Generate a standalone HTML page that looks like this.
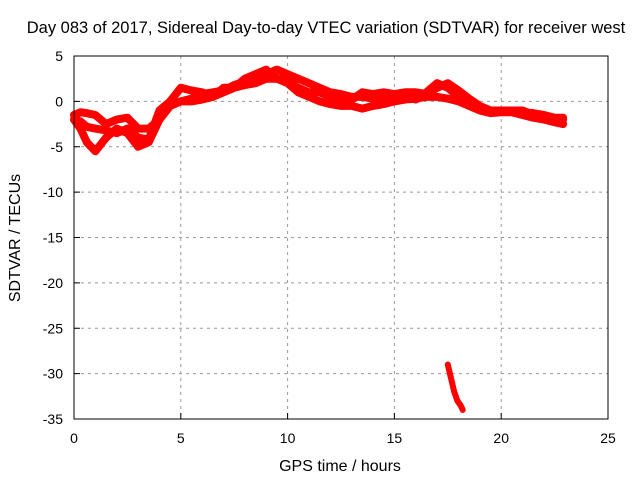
<!DOCTYPE html>
<html><head><meta charset="utf-8"><style>
body{margin:0;background:#fff}
svg{display:block;font-family:"Liberation Sans",sans-serif}
</style></head><body>
<svg id="c" width="640" height="480">
<text x="326" y="33" text-anchor="middle" font-size="16.5">Day 083 of 2017, Sidereal Day-to-day VTEC variation (SDTVAR) for receiver west</text>
<text x="340" y="471" text-anchor="middle" font-size="16">GPS time / hours</text>
<text transform="translate(20,238) rotate(-90)" text-anchor="middle" font-size="16">SDTVAR / TECUs</text>
<g id="grid"></g><g id="ticks"></g><g id="marks"></g>
<rect x="74" y="56" width="534" height="363" fill="none" stroke="#000" stroke-width="1"/>
</svg>
<script>
const xTicks=[0,5,10,15,20,25];
const yTicks=[5,0,-5,-10,-15,-20,-25,-30,-35];
const hours=[0,0.3,0.6,1,1.5,2,2.5,3,3.5,4,4.5,5,5.5,6,6.5,7,7.5,8,8.5,9,9.5,10,10.5,11,11.5,12,12.5,13,13.5,14,14.5,15,15.5,16,16.5,17,17.5,18,18.5,19,19.5,20,20.5,21,21.5,22,22.5,22.9];
const upperBand=[-1.5,-1.2,-1.3,-1.5,-2.5,-2,-1.8,-3,-3,-2,-0.5,0,0.3,0.8,1,1.2,1.8,2.2,2.5,3,3.5,3,2.5,2,1.5,1,0.8,0.5,0.5,0.3,0.5,0.8,1,1,0.8,1.5,2,1.2,0.3,-0.5,-1,-1,-1,-1.2,-1.3,-1.5,-1.8,-1.8];
const lowerBand=[-2,-3,-4.5,-5.5,-4,-3,-3.5,-5,-4.5,-2,-0.5,0,0,0.2,0.5,1,1.5,1.8,2,2.5,2.5,2,1,0.5,0,-0.3,-0.5,-0.5,-0.8,-0.5,-0.3,0,0.2,0.3,0.5,0.5,0.3,0,-0.5,-1,-1.3,-1.2,-1.2,-1.5,-1.8,-2,-2.3,-2.5];
const midBand=[-2,-2.2,-2.8,-3,-3.2,-3.5,-3,-4,-4.2,-1,0,1.5,1.2,1,0.5,1.5,1.5,2.5,3,3.5,2.5,2.2,1.5,1,1,0.5,0,0.2,1,0.8,1,0.8,0.5,0.2,1,2,1.5,0.5,0,-0.8,-1.2,-1,-1,-1,-1.5,-1.8,-2,-2];
const tailHours=[17.5,17.65,17.8,17.95,18.1,18.2];
const tailVals=[-29,-30.5,-32,-33,-33.5,-34];
const X=v=>74+(v/25)*534, Y=v=>56+(5-v)/40*363;
const ns="http://www.w3.org/2000/svg";
function mk(t,a,p){const e=document.createElementNS(ns,t);for(const k in a)e.setAttribute(k,a[k]);document.getElementById(p).appendChild(e);return e;}
xTicks.forEach(v=>{
 if(v>0&&v<25){const g=mk('line',{x1:X(v),x2:X(v),y1:56,y2:419,stroke:'#999','stroke-dasharray':'3,4'},'grid');}
 const t=mk('line',{x1:X(v),x2:X(v),y1:419,y2:413,stroke:'#000'},'ticks');
 const l=mk('text',{x:X(v),y:443,'text-anchor':'middle','font-size':14},'ticks');l.textContent=v;
 
});
yTicks.forEach(v=>{
 if(v<5&&v>-35){const g=mk('line',{x1:74,x2:608,y1:Y(v),y2:Y(v),stroke:'#999','stroke-dasharray':'3,4'},'grid');}
 const t=mk('line',{x1:74,x2:80,y1:Y(v),y2:Y(v),stroke:'#000'},'ticks');
 const l=mk('text',{x:63,y:Y(v)+5,'text-anchor':'end','font-size':14},'ticks');l.textContent=v;
 
});
function series(xs,ys,name,w){
 const p=mk('polyline',{points:xs.map((x,i)=>X(x)+','+Y(ys[i])).join(' '),fill:'none',stroke:'#f00','stroke-width':w,'stroke-linejoin':'round','stroke-linecap':'round'},'marks');
 
}
series(hours,upperBand,'sdtvar-upper-track',8);
series(hours,lowerBand,'sdtvar-lower-track',8);
series(hours,midBand,'sdtvar-middle-track',8);
series(tailHours,tailVals,'sdtvar-outlier-track',6);
</script>
</body></html>
